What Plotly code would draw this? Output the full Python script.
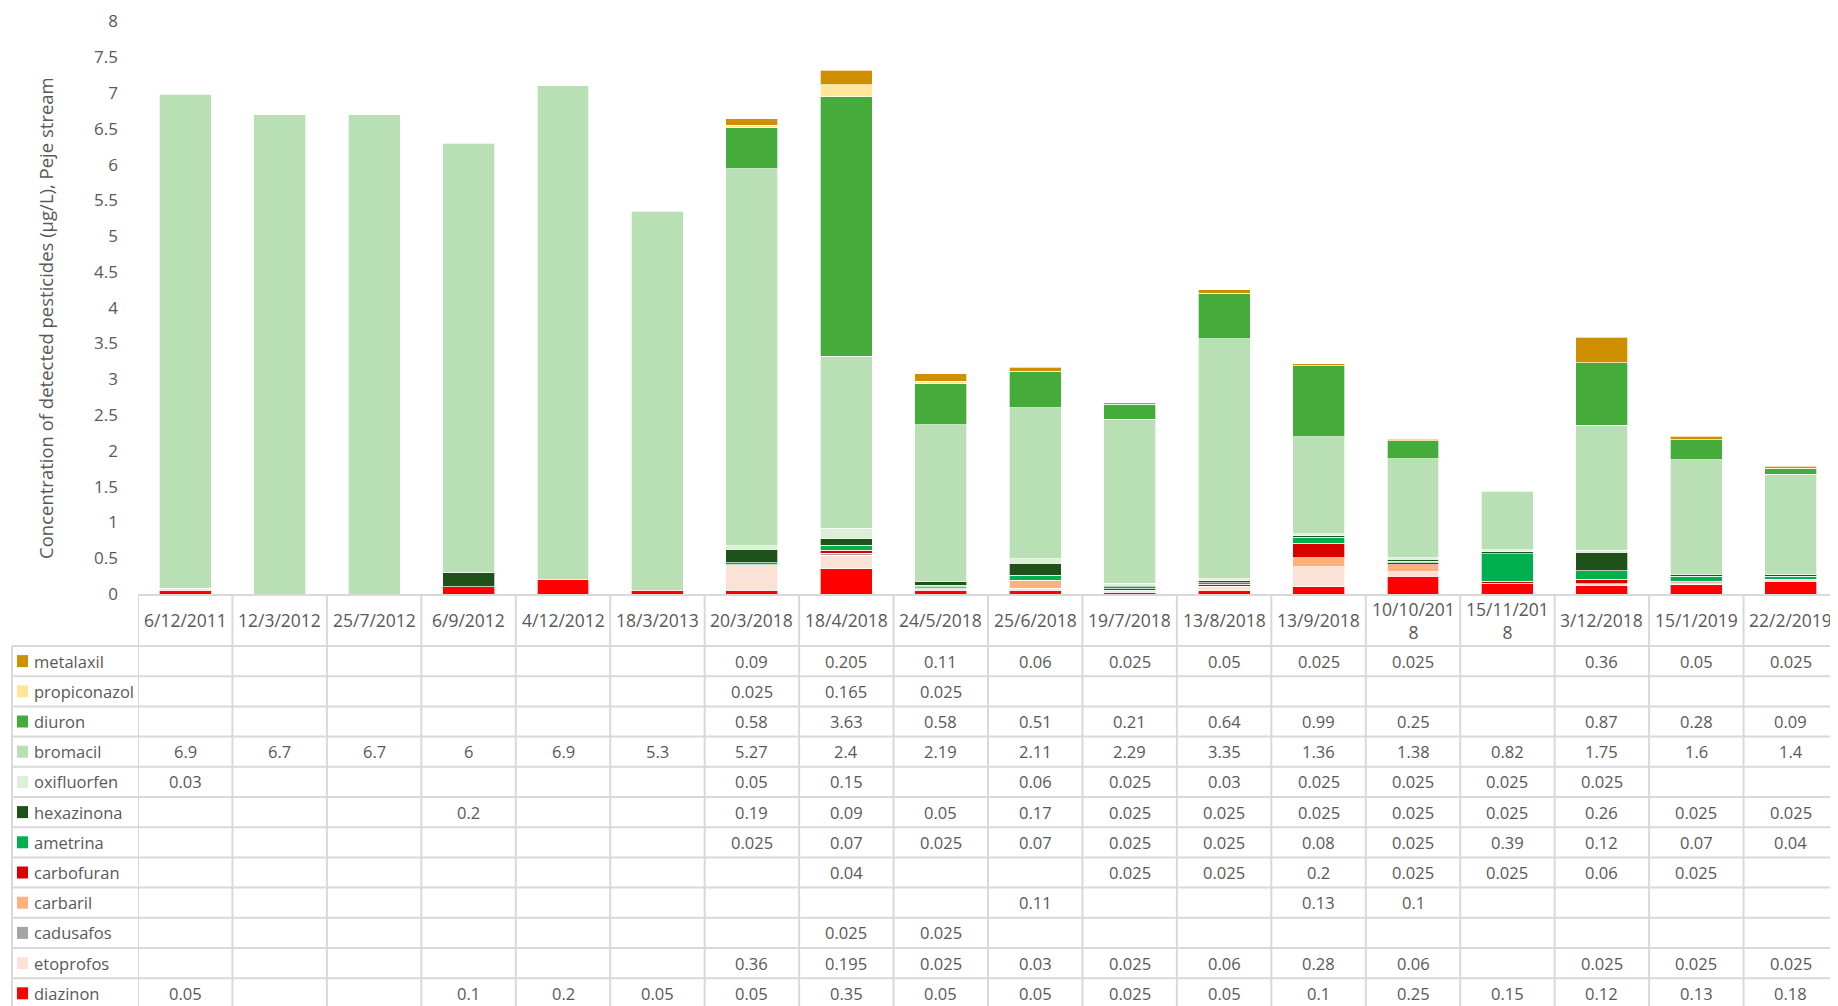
import plotly.graph_objects as go

# ---------------- data ----------------
dates = ["6/12/2011", "12/3/2012", "25/7/2012", "6/9/2012", "4/12/2012", "18/3/2013",
         "20/3/2018", "18/4/2018", "24/5/2018", "25/6/2018", "19/7/2018", "13/8/2018",
         "13/9/2018", "10/10/2018", "15/11/2018", "3/12/2018", "15/1/2019", "22/2/2019"]
header_labels = ["6/12/2011", "12/3/2012", "25/7/2012", "6/9/2012", "4/12/2012", "18/3/2013",
                 "20/3/2018", "18/4/2018", "24/5/2018", "25/6/2018", "19/7/2018", "13/8/2018",
                 "13/9/2018", "10/10/201<br>8", "15/11/201<br>8", "3/12/2018", "15/1/2019", "22/2/2019"]

N = None
metalaxil    = [N, N, N, N, N, N, 0.09, 0.205, 0.11, 0.06, 0.025, 0.05, 0.025, 0.025, N, 0.36, 0.05, 0.025]
propiconazol = [N, N, N, N, N, N, 0.025, 0.165, 0.025, N, N, N, N, N, N, N, N, N]
diuron       = [N, N, N, N, N, N, 0.58, 3.63, 0.58, 0.51, 0.21, 0.64, 0.99, 0.25, N, 0.87, 0.28, 0.09]
bromacil     = [6.9, 6.7, 6.7, 6, 6.9, 5.3, 5.27, 2.4, 2.19, 2.11, 2.29, 3.35, 1.36, 1.38, 0.82, 1.75, 1.6, 1.4]
oxifluorfen  = [0.03, N, N, N, N, N, 0.05, 0.15, N, 0.06, 0.025, 0.03, 0.025, 0.025, 0.025, 0.025, N, N]
hexazinona   = [N, N, N, 0.2, N, N, 0.19, 0.09, 0.05, 0.17, 0.025, 0.025, 0.025, 0.025, 0.025, 0.26, 0.025, 0.025]
ametrina     = [N, N, N, N, N, N, 0.025, 0.07, 0.025, 0.07, 0.025, 0.025, 0.08, 0.025, 0.39, 0.12, 0.07, 0.04]
carbofuran   = [N, N, N, N, N, N, N, 0.04, N, N, 0.025, 0.025, 0.2, 0.025, 0.025, 0.06, 0.025, N]
carbaril     = [N, N, N, N, N, N, N, N, N, 0.11, N, N, 0.13, 0.1, N, N, N, N]
cadusafos    = [N, N, N, N, N, N, N, 0.025, 0.025, N, N, N, N, N, N, N, N, N]
etoprofos    = [N, N, N, N, N, N, 0.36, 0.195, 0.025, 0.03, 0.025, 0.06, 0.28, 0.06, N, 0.025, 0.025, 0.025]
diazinon     = [0.05, N, N, 0.1, 0.2, 0.05, 0.05, 0.35, 0.05, 0.05, 0.025, 0.05, 0.1, 0.25, 0.15, 0.12, 0.13, 0.18]

# table order (top to bottom)
pesticides = ["metalaxil", "propiconazol", "diuron", "bromacil", "oxifluorfen", "hexazinona",
              "ametrina", "carbofuran", "carbaril", "cadusafos", "etoprofos", "diazinon"]
values = [metalaxil, propiconazol, diuron, bromacil, oxifluorfen, hexazinona,
          ametrina, carbofuran, carbaril, cadusafos, etoprofos, diazinon]

# ---------------- styles ----------------
colors = ["#CF9000", "#FFE699", "#45AC3B", "#B9DFB5", "#DCF0D8", "#1E5219",
          "#00B050", "#D90000", "#FFB07F", "#A5A5A5", "#FCE2D6", "#FF0000"]

PAGE_OFF = 8            # browser body margin
W, H = 1838 - PAGE_OFF, 1006 - PAGE_OFF
FONT = "Open Sans"
TXT = "#595959"
GRID = "#D9D9D9"
PLOT_LEFT, PLOT_TOP, PLOT_BOTTOM = 138, 21.5, 594
HEADER_MID = 620
ROW0_TOP, ROW_H = 646, 30.2
TABLE_LEFT = 12


def yp(p):
    return 1 - (p - PAGE_OFF) / H


def xp(p):
    return (p - PAGE_OFF) / W


fig = go.Figure()

# stacked bars: bottom (diazinon) first
for name, vals, col in reversed(list(zip(pesticides, values, colors))):
    fig.add_trace(go.Bar(
        x=dates, y=vals, name=name,
        marker=dict(color=col, line=dict(color="rgba(255,255,255,0.85)", width=0.8)),
        showlegend=False,
    ))

annotations = []
shapes = []

# header labels
for d, lab in zip(dates, header_labels):
    annotations.append(dict(x=d, xref="x", y=yp(HEADER_MID), yref="paper", text=lab,
                            showarrow=False, xanchor="center", yanchor="middle",
                            font=dict(family=FONT, size=17.5, color=TXT)))

# table rows
for i, (name, vals, col) in enumerate(zip(pesticides, values, colors)):
    cy = ROW0_TOP + ROW_H * (i + 0.5)
    shapes.append(dict(type="rect", xref="paper", yref="paper",
                       x0=xp(17), x1=xp(28), y0=yp(cy - 6), y1=yp(cy + 6),
                       fillcolor=col, line=dict(width=0)))
    annotations.append(dict(x=xp(32), xref="paper", y=yp(cy), yref="paper", text=name,
                            showarrow=False, xanchor="left", yanchor="middle",
                            font=dict(family=FONT, size=16.5, color=TXT)))
    for d, v in zip(dates, vals):
        if v is None:
            continue
        annotations.append(dict(x=d, xref="x", y=yp(cy), yref="paper", text=f"{v:g}",
                                showarrow=False, xanchor="center", yanchor="middle",
                                font=dict(family=FONT, size=16.5, color=TXT)))

# horizontal grid lines of table
for i in range(len(pesticides) + 1):
    y = ROW0_TOP + ROW_H * i
    shapes.append(dict(type="line", xref="paper", yref="paper",
                       x0=xp(TABLE_LEFT), x1=1, y0=yp(y), y1=yp(y),
                       line=dict(color=GRID, width=2), layer="below"))
# vertical grid lines
for k in range(len(dates) + 1):
    shapes.append(dict(type="line", xref="x", yref="paper",
                       x0=k - 0.5, x1=k - 0.5, y0=yp(PLOT_BOTTOM), y1=0,
                       line=dict(color=GRID, width=2), layer="below"))
shapes.append(dict(type="line", xref="paper", yref="paper",
                   x0=xp(TABLE_LEFT), x1=xp(TABLE_LEFT), y0=yp(ROW0_TOP), y1=0,
                   line=dict(color=GRID, width=2), layer="below"))

# y-axis title
annotations.append(dict(x=xp(45), xref="paper", y=yp(318), yref="paper",
                        text="Concentration of detected pesticides (µg/L), Peje stream",
                        textangle=-90, showarrow=False, xanchor="center", yanchor="middle",
                        font=dict(family=FONT, size=18.5, color=TXT)))

fig.update_layout(
    width=W, height=H,
    autosize=False,
    margin=dict(l=0, r=0, t=0, b=0, pad=0, autoexpand=False),
    paper_bgcolor="white", plot_bgcolor="white",
    barmode="stack", bargap=0.45,
    showlegend=False,
    font=dict(family=FONT, color=TXT),
    annotations=annotations, shapes=shapes,
    xaxis=dict(type="category", domain=[xp(PLOT_LEFT), 1], range=[-0.5, len(dates) - 0.5],
               showticklabels=False, ticks="", showgrid=False, zeroline=False,
               automargin=False,
               showline=True, linecolor=GRID, linewidth=2, fixedrange=True),
    yaxis=dict(domain=[yp(PLOT_BOTTOM), yp(PLOT_TOP)], range=[0, 8], dtick=0.5,
               showgrid=False, zeroline=False, showline=False, ticks="",
               automargin=False, ticklabelstandoff=19,
               tickfont=dict(family=FONT, size=17, color=TXT), fixedrange=True),
)

fig.write_html("out.html")
